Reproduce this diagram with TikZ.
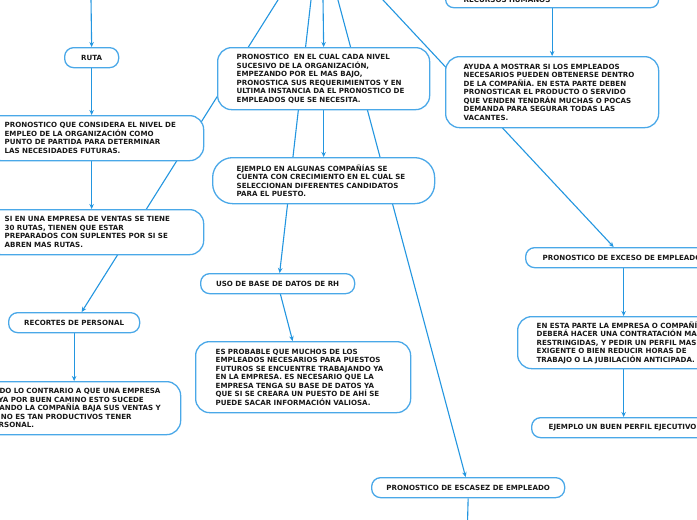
\documentclass[tikz,border=0pt]{standalone}
\usepackage{fontspec}
\setmainfont{DejaVu Sans}
\usetikzlibrary{arrows.meta,backgrounds}
\definecolor{nodeblue}{RGB}{74,168,232}
\definecolor{lineblue}{RGB}{35,150,224}
\definecolor{txtc}{RGB}{25,25,25}
\begin{document}
\begin{tikzpicture}[x=1pt,y=-1pt,
  box/.style={draw=nodeblue, line width=1.3pt, fill=white, rounded corners=14pt,
    anchor=north west, inner ysep=1pt, text=txtc, align=left,
    font=\fontsize{7.1}{8.5}\selectfont\bfseries},
  pill/.style={box, rounded corners=9pt, align=center, minimum height=20pt},
  conn/.style={draw=lineblue, line width=1.1pt},
  arr/.style={conn, -{Stealth[length=5pt,width=4.5pt]}}]
\useasboundingbox (0,0) rectangle (697,520);

% top free ends
\coordinate (tR) at (91,-1);
\coordinate (tA) at (278.6,-1);
\coordinate (tB) at (311.1,-1);
\coordinate (tC) at (323,-1);
\coordinate (tD) at (337.7,-1);
\coordinate (tE) at (382.1,-1);
\coordinate (escdown) at (467.5,523);

% nodes
\node[pill, minimum width=54pt] (ruta) at (64,47) {RUTA};
\node[box, minimum height=45pt, text width=181pt, inner xsep=18pt] (pqc) at (-14,115)
 {\mbox{PRONOSTICO QUE CONSIDERA EL NIVEL DE}\\\mbox{EMPLEO DE LA ORGANIZACIÓN COMO}\\\mbox{PUNTO DE PARTIDA PARA DETERMINAR}\\\mbox{LAS NECESIDADES FUTURAS.}};
\node[box, minimum height=45pt, text width=181pt, inner xsep=18pt] (siem) at (-14,209)
 {\mbox{SI EN UNA EMPRESA DE VENTAS SE TIENE}\\\mbox{30 RUTAS, TIENEN QUE ESTAR}\\\mbox{PREPARADOS CON SUPLENTES POR SI SE}\\\mbox{ABREN MAS RUTAS.}};
\node[pill, minimum width=131pt] (rec) at (8,312) {RECORTES DE PERSONAL};
\node[box, minimum height=53pt, text width=174pt, inner xsep=18pt] (todo) at (-30,381)
 {\mbox{TODO LO CONTRARIO A QUE UNA EMPRESA}\\\mbox{VAYA POR BUEN CAMINO ESTO SUCEDE}\\\mbox{CUANDO LA COMPAÑÍA BAJA SUS VENTAS Y}\\\mbox{YA NO ES TAN PRODUCTIVOS TENER}\\\mbox{PERSONAL.}};
\node[box, minimum height=62pt, text width=174pt, inner xsep=19pt] (pec) at (217,47)
 {\mbox{PRONOSTICO\ \ EN EL CUAL CADA NIVEL}\\\mbox{SUCESIVO DE LA ORGANIZACIÓN,}\\\mbox{EMPEZANDO POR EL MAS BAJO,}\\\mbox{PRONOSTICA SUS REQUERIMIENTOS Y EN}\\\mbox{ULTIMA INSTANCIA DA EL PRONOSTICO DE}\\\mbox{EMPLEADOS QUE SE NECESITA.}};
\node[box, minimum height=46pt, text width=174pt, inner xsep=24pt, rounded corners=20pt] (ejm) at (212,157)
 {\mbox{EJEMPLO EN ALGUNAS COMPAÑÍAS SE}\\\mbox{CUENTA CON CRECIMIENTO EN EL CUAL SE}\\\mbox{SELECCIONAN DIFERENTES CANDIDATOS}\\\mbox{PARA EL PUESTO.}};
\node[pill, minimum width=154pt] (uso) at (200,273) {USO DE BASE DE DATOS DE RH};
\node[box, minimum height=71pt, text width=175pt, inner xsep=20pt] (esp) at (195,341)
 {\mbox{ES PROBABLE QUE MUCHOS DE LOS}\\\mbox{EMPLEADOS NECESARIOS PARA PUESTOS}\\\mbox{FUTUROS SE ENCUENTRE TRABAJANDO YA}\\\mbox{EN LA EMPRESA. ES NECESARIO QUE LA}\\\mbox{EMPRESA TENGA SU BASE DE DATOS YA}\\\mbox{QUE SI SE CREARA UN PUESTO DE AHÍ SE}\\\mbox{PUEDE SACAR INFORMACIÓN VALIOSA.}};
\node[box, minimum height=16pt, text width=177pt, inner xsep=18pt, rounded corners=8pt] (rh) at (445,-9)
 {\mbox{RECURSOS HUMANOS}};
\node[box, minimum height=71pt, text width=177pt, inner xsep=18pt] (ayu) at (445,56)
 {\mbox{AYUDA A MOSTRAR SI LOS EMPLEADOS}\\\mbox{NECESARIOS PUEDEN OBTENERSE DENTRO}\\\mbox{DE LA COMPAÑÍA. EN ESTA PARTE DEBEN}\\\mbox{PRONOSTICAR EL PRODUCTO O SERVIDO}\\\mbox{QUE VENDEN TENDRÁN MUCHAS O POCAS}\\\mbox{DEMANDA PARA SEGURAR TODAS LAS}\\\mbox{VACANTES.}};
\node[box, rounded corners=9pt, minimum height=20pt, text width=162pt, inner xsep=17pt] (exc) at (525,247)
 {\mbox{PRONOSTICO DE EXCESO DE EMPLEADOS}};
\node[box, minimum height=52pt, text width=174pt, inner xsep=19pt] (ent) at (517,316)
 {\mbox{EN ESTA PARTE LA EMPRESA O COMPAÑÍA}\\\mbox{DEBERÁ HACER UNA CONTRATACIÓN MAS}\\\mbox{RESTRINGIDAS, Y PEDIR UN PERFIL MAS}\\\mbox{EXIGENTE O BIEN REDUCIR HORAS DE}\\\mbox{TRABAJO O LA JUBILACIÓN ANTICIPADA.}};
\node[box, rounded corners=9pt, minimum height=20pt, text width=150pt, inner xsep=17pt] (ejb) at (531,417)
 {\mbox{EJEMPLO UN BUEN PERFIL EJECUTIVO}};
\node[pill, minimum width=193pt] (esc) at (371,477) {PRONOSTICO DE ESCASEZ DE EMPLEADO};

% connectors behind the nodes
\begin{scope}[on background layer]
\fill[white] (0,0) rectangle (697,520);
\draw[arr] (tR) -- (ruta.north);
\draw[arr] (ruta.south) -- (ruta.south |- pqc.north);
\draw[arr] (ruta.south |- pqc.south) -- (ruta.south |- siem.north);
\draw[arr] (tA) -- ([xshift=7.5pt]rec.north);
\draw[arr] (rec.south) -- (rec.south |- todo.north);
\draw[arr] (tB) -- ([xshift=2pt]uso.north);
\draw[arr] (uso.center) -- ([xshift=-10.5pt]esp.north);
\draw[arr] (tC) -- (pec.north);
\draw[arr] (pec.south) -- (pec.south |- ejm.north);
\draw[arr] (tD) -- ([xshift=-2.5pt]esc.north);
\draw[conn] (esc.south) -- (escdown);
\draw[arr] (tE) -- ([xshift=-10pt]exc.north);
\draw[arr] (rh.south) -- (rh.south |- ayu.north);
\draw[arr] (exc.south) -- (exc.south |- ent.north);
\draw[arr] (exc.south |- ent.south) -- (exc.south |- ejb.north);
\end{scope}
\end{tikzpicture}
\end{document}
